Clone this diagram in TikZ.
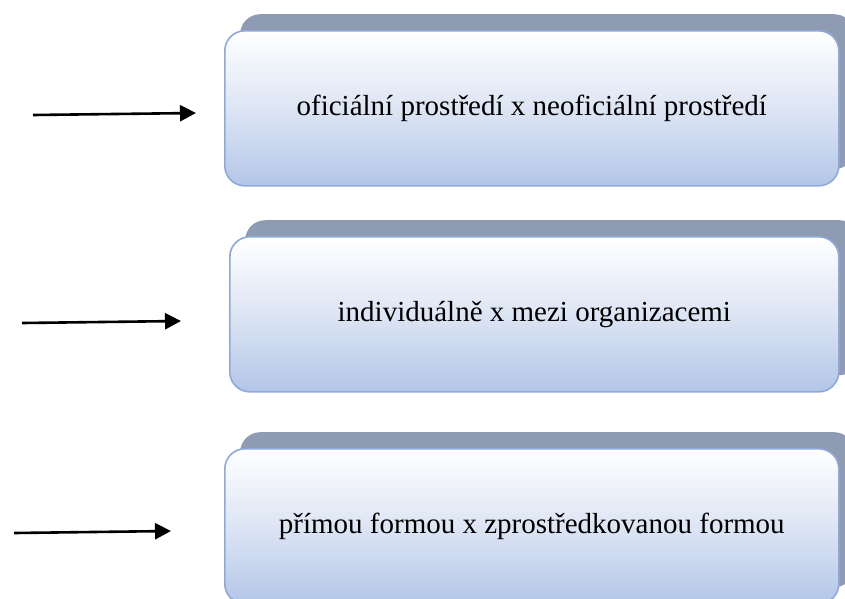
\documentclass[tikz,border=0pt]{standalone}
\usepackage{fontspec}
\setmainfont{Liberation Serif}
\usetikzlibrary{arrows.meta}
\definecolor{boxtop}{HTML}{FFFFFF}
\definecolor{boxbot}{HTML}{B3C6E7}
\definecolor{boxline}{HTML}{8EAADB}
\definecolor{shade}{HTML}{8E9BB2}
\tikzset{
  card/.style={rounded corners=20pt, top color=boxtop, bottom color=boxbot,
    middle color=boxtop!55!boxbot, draw=boxline, line width=1.6pt,
    minimum width=614pt, minimum height=155pt, inner sep=0pt,
    font=\fontsize{29}{34}\selectfont, anchor=north west},
  backcard/.style={rounded corners=20pt, fill=shade, draw=none,
    minimum width=614pt, minimum height=155pt, anchor=north west},
  pointer/.style={line width=2.6pt, -{Triangle[length=16pt,width=16pt]}}
}
\begin{document}
\begin{tikzpicture}[x=1pt,y=-1pt]
  \useasboundingbox (0,0) rectangle (845,598);
  % back plates
  \node[backcard] (s1) at (240,14) {};
  \node[backcard] (s2) at (245,220) {};
  \node[backcard] (s3) at (240,432) {};
  % front cards
  \node[card] (b1) at (224,30) {oficiální prostředí x neoficiální prostředí};
  \node[card, minimum width=609pt] (b2) at (229,236) {individuálně x mezi organizacemi};
  \node[card] (b3) at (224,448) {přímou formou x zprostředkovanou formou};
  % arrows
  \coordinate (a1s) at (33,115);  \coordinate (a1e) at (196,113);
  \coordinate (a2s) at (22,323);  \coordinate (a2e) at (181,321);
  \coordinate (a3s) at (14,533);  \coordinate (a3e) at (171,531);
  \draw[pointer] (a1s) -- (a1e);
  \draw[pointer] (a2s) -- (a2e);
  \draw[pointer] (a3s) -- (a3e);
\end{tikzpicture}
\end{document}
